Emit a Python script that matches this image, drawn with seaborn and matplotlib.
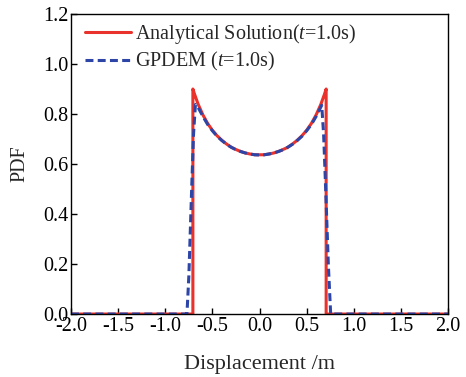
import numpy as np
import pandas as pd
import matplotlib
matplotlib.use("Agg")
import matplotlib.pyplot as plt
import seaborn as sns

# Analytical solution
x_ana = [-2.0, -0.707, -0.707, -0.69, -0.65, -0.6, -0.55, -0.5, -0.45, -0.4, -0.35, -0.3, -0.25,
         -0.2, -0.15, -0.1, -0.05, 0.0, 0.05, 0.1, 0.15, 0.2, 0.25, 0.3, 0.35, 0.4, 0.45, 0.5,
         0.55, 0.6, 0.65, 0.69, 0.707, 0.707, 2.0]
y_ana = [0.0, 0.0, 0.900, 0.880, 0.838, 0.796, 0.762, 0.735, 0.713, 0.695, 0.680, 0.667, 0.658,
         0.650, 0.644, 0.640, 0.637, 0.637, 0.637, 0.640, 0.644, 0.650, 0.658, 0.667, 0.680, 0.695,
         0.713, 0.735, 0.762, 0.796, 0.838, 0.880, 0.900, 0.0, 0.0]

# GPDEM
x_gp = [-2.0, -0.77, -0.75, -0.72, -0.70, -0.68, -0.65, -0.6, -0.55, -0.5, -0.45, -0.4, -0.35,
        -0.3, -0.25, -0.2, -0.15, -0.1, -0.05, 0.0, 0.05, 0.1, 0.15, 0.2, 0.25, 0.3, 0.35, 0.4,
        0.45, 0.5, 0.55, 0.6, 0.63, 0.66, 0.68, 0.70, 0.73, 0.755, 2.0]
y_gp = [0.0, 0.0, 0.15, 0.50, 0.72, 0.838, 0.825, 0.790, 0.758, 0.733, 0.711, 0.694, 0.679,
        0.667, 0.657, 0.650, 0.644, 0.640, 0.637, 0.636, 0.637, 0.640, 0.644, 0.650, 0.657, 0.667,
        0.679, 0.694, 0.711, 0.733, 0.758, 0.790, 0.812, 0.835, 0.72, 0.52, 0.20, 0.0, 0.0]

x_ticks = [-2.0, -1.5, -1.0, -0.5, 0.0, 0.5, 1.0, 1.5, 2.0]
y_ticks = [0.0, 0.2, 0.4, 0.6, 0.8, 1.0, 1.2]

sns.set_theme(style="ticks")
plt.rcParams['font.family'] = ['Liberation Serif', 'DejaVu Serif']
plt.rcParams['mathtext.fontset'] = 'custom'
plt.rcParams['mathtext.rm'] = 'Liberation Serif'
plt.rcParams['mathtext.it'] = 'Liberation Serif:italic'

fig = plt.figure(figsize=(4.66, 3.77), dpi=100)
ax = fig.add_axes([0.1524, 0.167, 0.8090, 0.7959])

df_a = pd.DataFrame({"x": x_ana, "y": y_ana})
df_g = pd.DataFrame({"x": x_gp, "y": y_gp})

sns.lineplot(data=df_a, x="x", y="y", sort=False, estimator=None, ax=ax, color="#e8322b", lw=2.2,
             label=r"Analytical Solution($\mathit{t}$=1.0s)")
sns.lineplot(data=df_g, x="x", y="y", sort=False, estimator=None, ax=ax, color="#2e45a8", lw=2.2,
             label=r"GPDEM ($\mathit{t}$=1.0s)")
ax.lines[1].set_dashes([2.6, 1.4])

ax.set_xlim(-2.0, 2.0)
ax.set_ylim(0.0, 1.2)
ax.set_xticks(x_ticks)
ax.set_xticklabels([f"{v:.1f}" for v in x_ticks])
ax.set_yticks(y_ticks)
ax.set_yticklabels([f"{v:.1f}" for v in y_ticks])
ax.tick_params(direction="in", length=4, width=1, labelsize=14.5, colors="black", pad=2)
for s in ax.spines.values():
    s.set_linewidth(1.0)
    s.set_color("black")
ax.set_xlabel("Displacement /m", fontsize=16, labelpad=14)
ax.set_ylabel("PDF", fontsize=14.5, labelpad=10)

leg = ax.legend(loc="upper left", frameon=False, fontsize=14.5, handlelength=2.3,
                handletextpad=0.2, labelspacing=0.2, borderaxespad=0.0,
                bbox_to_anchor=(0.015, 1.0))
for h in leg.get_lines():
    h.set_linewidth(2.2)
leg.get_lines()[1].set_dashes([2.6, 1.4])

fig.savefig("out.png", dpi=100)
